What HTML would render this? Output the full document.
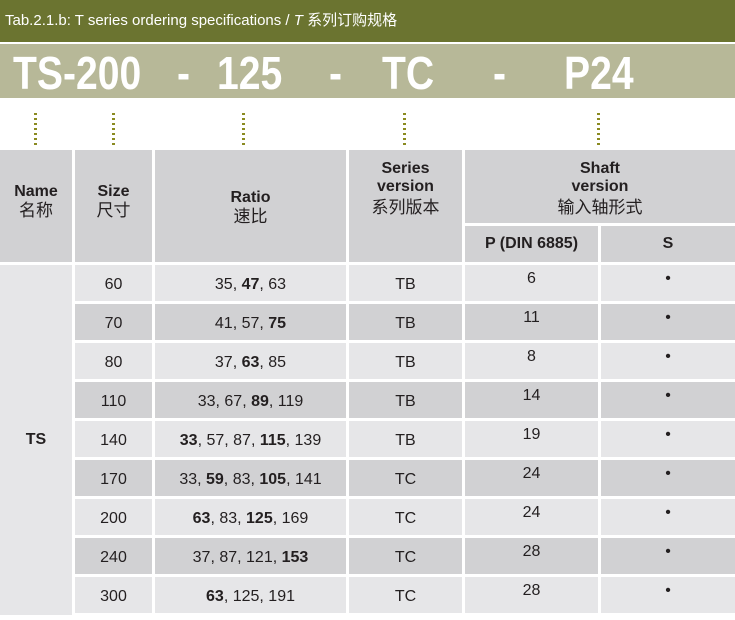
<!DOCTYPE html>
<html><head><meta charset="utf-8"><style>
body{margin:0;width:735px;height:620px;background:#fff;position:relative;overflow:hidden;font-family:"Liberation Sans","Noto Sans CJK SC",sans-serif;color:#231f20}
div{position:absolute;box-sizing:border-box}
.t{top:0;left:0;width:735px;height:42px;background:#6b7430;color:#fff;font-size:15px;line-height:42px;padding-left:5px}
.b{top:44px;left:0;width:735px;height:54px;background:#b7b898}
.big{top:47px;color:#fff;font-weight:bold;font-size:46px;line-height:52px;transform:scaleX(0.85);transform-origin:left}
.dot{top:113px;width:3px;height:33px;background:repeating-linear-gradient(#8a8a20 0 2px,transparent 2px 5px)}
.h{background:#d1d1d3;text-align:center;font-size:17px;line-height:20px;display:flex;flex-direction:column;justify-content:center}
.h b{font-size:16px;line-height:18px}
.c{text-align:center;font-size:16px;line-height:40px;height:36px}
.L{background:#e6e6e8}.D{background:#d1d1d3}
.p{line-height:28px}
</style></head><body>
<div class="t">Tab.2.1.b: T series ordering specifications / <i>T</i> 系列订购规格</div>
<div class="b"></div>
<div class="big" style="left:13px">TS-200</div>
<div class="big" style="left:177px">-</div>
<div class="big" style="left:217px">125</div>
<div class="big" style="left:329px">-</div>
<div class="big" style="left:382px">TC</div>
<div class="big" style="left:493px">-</div>
<div class="big" style="left:564px">P24</div>
<div class="dot" style="left:34px"></div><div class="dot" style="left:112px"></div><div class="dot" style="left:242px"></div><div class="dot" style="left:403px"></div><div class="dot" style="left:597px"></div>
<div class="h" style="left:0;top:150px;width:72px;height:112px;padding-bottob:8px;padding-bottom:8px"><b>Name</b>名称</div>
<div class="h" style="left:75px;top:150px;width:77px;height:112px;padding-bottom:8px"><b>Size</b>尺寸</div>
<div class="h" style="left:155px;top:150px;width:191px;height:112px;padding-top:4px"><b>Ratio</b>速比</div>
<div class="h" style="left:349px;top:150px;width:113px;height:112px;justify-content:flex-start;padding-top:10px"><b>Series<br>version</b><span style="margin-top:2px">系列版本</span></div>
<div class="h" style="left:465px;top:150px;width:270px;height:73px;justify-content:flex-start;padding-top:10px"><b>Shaft<br>version</b><span style="margin-top:2px">输入轴形式</span></div>
<div class="h" style="left:465px;top:226px;width:133px;height:36px"><b>P (DIN 6885)</b></div>
<div class="h" style="left:601px;top:226px;width:134px;height:36px"><b>S</b></div>
<div class="L" style="left:0;top:265px;width:72px;height:350px;text-align:center;line-height:350px;font-weight:bold;font-size:16px">TS</div>
<script>
var d=[["60","35, <b>47</b>, 63","TB","6"],["70","41, 57, <b>75</b>","TB","11"],["80","37, <b>63</b>, 85","TB","8"],["110","33, 67, <b>89</b>, 119","TB","14"],["140","<b>33</b>, 57, 87, <b>115</b>, 139","TB","19"],["170","33, <b>59</b>, 83, <b>105</b>, 141","TC","24"],["200","<b>63</b>, 83, <b>125</b>, 169","TC","24"],["240","37, 87, 121, <b>153</b>","TC","28"],["300","<b>63</b>, 125, 191","TC","28"]];
var h="";
d.forEach(function(r,i){var y=265+39*i,k=i%2?"D":"L";
var col=[[75,77,r[0],""],[155,191,r[1],""],[349,113,r[2],""],[465,133,r[3]," p"],[601,134,"•"," p"]];
col.forEach(function(c){h+='<div class="c '+k+c[3]+'" style="left:'+c[0]+'px;top:'+y+'px;width:'+c[1]+'px">'+c[2]+'</div>';});});
document.body.insertAdjacentHTML("beforeend",h);
</script>
</body></html>
